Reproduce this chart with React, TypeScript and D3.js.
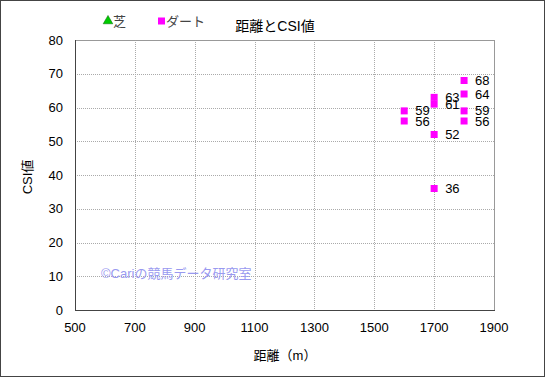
import React from "react";
import * as d3 from "d3";

const turfX: number[] = [];
const turfY: number[] = [];
const dirtX = [1600, 1600, 1700, 1700, 1700, 1700, 1800, 1800, 1800, 1800];
const dirtY = [59, 56, 63, 61, 52, 36, 68, 64, 59, 56];
const xTicks = [500, 700, 900, 1100, 1300, 1500, 1700, 1900];
const yTicks = [0, 10, 20, 30, 40, 50, 60, 70, 80];
const title = "距離とCSI値";
const xLabel = "距離（m）";
const yLabel = "CSI値";
const legendLabels = ["芝", "ダート"];
const watermark = "©Cariの競馬データ研究室";

const W = 545;
const H = 377;
const FONT = "'Liberation Sans', Arial, 'Noto Sans CJK JP', sans-serif";

export default function App() {
  const x = d3.scaleLinear().domain([500, 1900]).range([75, 494]);
  const y = d3.scaleLinear().domain([0, 80]).range([310, 40]);
  const ms = 7;
  const tri = d3.symbol().type(d3.symbolTriangle).size(40)();
  return (
    <div style={{ position: "absolute", left: 0, top: 0 }}>
      <svg width={W} height={H} style={{ display: "block", fontFamily: FONT }}>
        <rect x={0.5} y={0.5} width={W - 1} height={H - 1} fill="#fff" stroke="#444" strokeWidth={1} />
        {/* grid */}
        {yTicks.slice(1, -1).map((t) => (
          <line key={"gy" + t} x1={x(500)} x2={x(1900)} y1={Math.round(y(t)) + 0.5} y2={Math.round(y(t)) + 0.5} stroke="#aaa" strokeDasharray="1,1" />
        ))}
        {xTicks.slice(1, -1).map((t) => (
          <line key={"gx" + t} x1={Math.round(x(t)) + 0.5} x2={Math.round(x(t)) + 0.5} y1={y(80)} y2={y(0)} stroke="#aaa" strokeDasharray="1,1" />
        ))}
        {/* plot frame */}
        <line x1={x(500)} x2={x(1900)} y1={y(80) + 0.5} y2={y(80) + 0.5} stroke="#999" />
        <line x1={x(1900) + 0.5} x2={x(1900) + 0.5} y1={y(80)} y2={y(0)} stroke="#999" />
        <line x1={x(500) + 0.5} x2={x(500) + 0.5} y1={y(80)} y2={y(0) + 0.5} stroke="#444" />
        <line x1={x(500)} x2={x(1900) + 1} y1={y(0) + 0.5} y2={y(0) + 0.5} stroke="#444" />
        {/* y ticks */}
        {yTicks.map((t) => (
          <text key={"yt" + t} x={63} y={y(t)} textAnchor="end" dominantBaseline="central" fontSize={13} fill="#000">
            {t}
          </text>
        ))}
        {xTicks.map((t) => (
          <text key={"xt" + t} x={x(t)} y={327} textAnchor="middle" dominantBaseline="central" fontSize={13} fill="#000">
            {t}
          </text>
        ))}
        <text x={285} y={355} textAnchor="middle" dominantBaseline="central" fontSize={13} fill="#000">
          {xLabel}
        </text>
        <text transform={`translate(27,177) rotate(-90)`} textAnchor="middle" dominantBaseline="central" fontSize={13} fill="#000">
          {yLabel}
        </text>
        <text x={275} y={26} textAnchor="middle" dominantBaseline="central" fontSize={14} fill="#000">
          {title}
        </text>
        {/* watermark */}
        <text x={101} y={273} dominantBaseline="central" fontSize={13} fill="#9999f0">
          {watermark}
        </text>
        {/* legend */}
        <path d={tri} transform="translate(108,21)" fill="#00cc00" stroke="#006600" strokeWidth={0.5} />
        <text x={113} y={21} dominantBaseline="central" fontSize={13} fill="#444">
          {legendLabels[0]}
        </text>
        <rect x={158} y={17.5} width={7} height={7} fill="#ff00ff" />
        <text x={166} y={21} dominantBaseline="central" fontSize={13} fill="#444">
          {legendLabels[1]}
        </text>
        {/* turf points */}
        {turfX.map((v, i) => (
          <path key={"t" + i} d={tri} transform={`translate(${x(v)},${y(turfY[i])})`} fill="#00cc00" />
        ))}
        {/* dirt points */}
        {dirtX.map((v, i) => (
          <rect key={"d" + i} x={x(v) - ms / 2} y={y(dirtY[i]) - ms / 2} width={ms} height={ms} fill="#ff00ff" />
        ))}
        {dirtX.map((v, i) => (
          <text key={"l" + i} x={x(v) + 11} y={y(dirtY[i])} dominantBaseline="central" fontSize={13} fill="#000">
            {dirtY[i]}
          </text>
        ))}
      </svg>
    </div>
  );
}
